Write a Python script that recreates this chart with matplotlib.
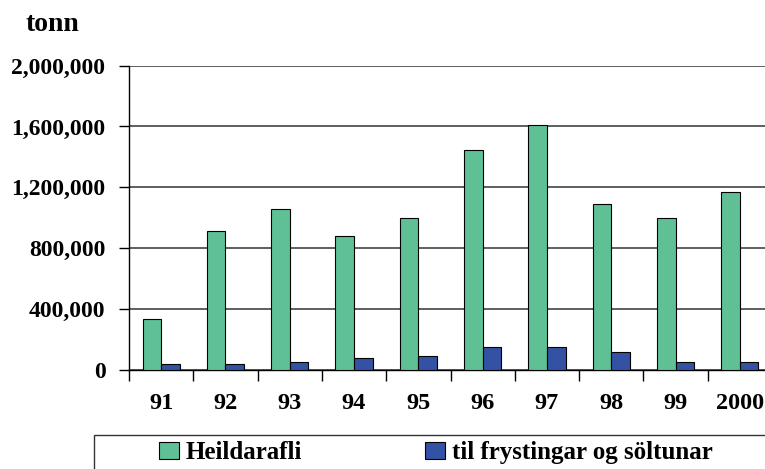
import numpy as np
import matplotlib
matplotlib.use("Agg")
import matplotlib.pyplot as plt
from matplotlib.patches import Rectangle
from matplotlib.ticker import FuncFormatter

# Gögn (tonn)
ar = ["91", "92", "93", "94", "95", "96", "97", "98", "99", "2000"]
heildarafli = [335000, 915000, 1056000, 880000, 999000, 1446000, 1607000, 1087000, 999000, 1168000]
frysting = [37000, 37000, 50000, 75000, 88000, 151000, 145000, 112000, 50000, 50000]

graenn = "#5fc096"
blar = "#3352a3"

plt.rcParams["font.family"] = ["Liberation Serif", "DejaVu Serif"]
plt.rcParams["font.weight"] = "bold"

W, H = 765, 469
fig = plt.figure(figsize=(W / 100, H / 100), dpi=100)
ax = fig.add_axes([129 / W, 1 - 369.5 / H, 643 / W, (369.5 - 65.7) / H])

x = np.arange(len(ar))
b = 0.29
s1 = ax.bar(x - b / 2, heildarafli, b, color=graenn, edgecolor="black", linewidth=0.8, zorder=3)
s2 = ax.bar(x + b / 2, frysting, b, color=blar, edgecolor="black", linewidth=0.8, zorder=3)

ax.set_xlim(-0.5, len(ar) - 0.5)
ax.set_ylim(0, 2000000)
ax.set_yticks(np.arange(0, 2000001, 400000))
ax.yaxis.set_major_formatter(FuncFormatter(lambda v, p: f"{int(v):,}"))
ax.grid(axis="y", color="#333333", linewidth=1.1, zorder=0)

ax.set_xticks(x)
ax.set_xticklabels(ar)
ax.set_xticks(np.arange(-0.5, len(ar)), minor=True)
ax.tick_params(axis="x", which="major", length=0, pad=17, labelsize=17.5)
ax.tick_params(axis="x", which="minor", length=8, width=1, color="black")
ax.tick_params(axis="y", length=7, width=1, pad=10, labelsize=17)

for sp in ["top", "right"]:
    ax.spines[sp].set_visible(False)
ax.spines["left"].set_linewidth(1)
ax.spines["bottom"].set_linewidth(1)

fig.text(25 / W, 1 - 31 / H, "tonn", fontsize=20, fontweight="bold", ha="left", va="baseline")

# Skýringarrammi neðst, klipptur af myndinni
fig.patches.append(Rectangle((94 / W, -0.2), 1.0, 0.2 + 1 - 435 / H, transform=fig.transFigure,
                             fill=False, edgecolor="#333333", linewidth=1))
fig.legend([s1, s2], ["Heildarafli", "til frystingar og söltunar"], ncol=2, frameon=False,
           loc="upper left", bbox_to_anchor=(154 / W, 1 - 436 / H), fontsize=18,
           handlelength=0.8, handleheight=0.7, handletextpad=0.25, columnspacing=4.95,
           borderaxespad=0, borderpad=0.2)

fig.savefig("out.png", dpi=100)
